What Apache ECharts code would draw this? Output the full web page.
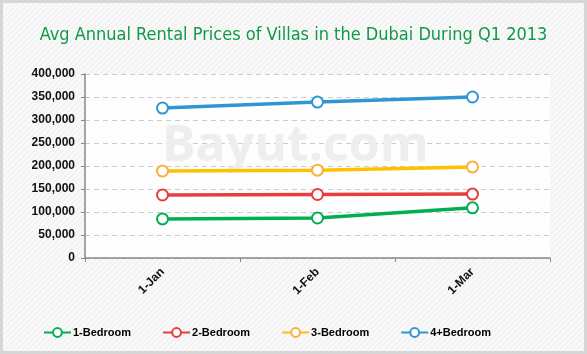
<!DOCTYPE html>
<html>
<head>
<meta charset="utf-8">
<script src="https://cdn.jsdelivr.net/npm/echarts@6/dist/echarts.min.js"></script>
<style>
  html, body { margin: 0; padding: 0; }
  body {
    width: 587px; height: 354px; box-sizing: border-box;
    border: 3px solid #d6d6d6;
    background: #f7f7f7 repeating-linear-gradient(135deg, #f9f9f9 0px, #f9f9f9 2px, #eeeeee 3px, #f9f9f9 4px);
  }
  #chart { position: absolute; left: 0; top: 0; width: 587px; height: 354px; }
</style>
</head>
<body>
<div id="chart"></div>
<script>
const months = ['1-Jan', '1-Feb', '1-Mar'];
const bed1 = [85000, 87000, 109000];
const bed2 = [137000, 138000, 139000];
const bed3 = [189000, 191000, 198000];
const bed4 = [326000, 339000, 350000];
const seriesNames = ['1-Bedroom', '2-Bedroom', '3-Bedroom', '4+Bedroom'];
const lineColors   = ['#00b050', '#e83d3d', '#ffc000', '#2f96d6'];
const markerColors = ['#00b050', '#e83d3d', '#fbb03b', '#2f96d6'];

const chart = echarts.init(document.getElementById('chart'));

const makeSeries = (name, data, idx) => ({
  name,
  type: 'line',
  data,
  symbol: 'emptyCircle',
  symbolSize: 11,
  showAllSymbol: true,
  lineStyle: { width: 3.5, color: lineColors[idx] },
  itemStyle: { color: markerColors[idx], borderWidth: 3 },
  emphasis: { disabled: true },
  z: 3
});

chart.setOption({
  animation: false,
  backgroundColor: 'transparent',
  title: {
    text: 'Avg Annual Rental Prices of Villas in the Dubai During Q1 2013',
    left: 'center',
    top: 21,
    textStyle: {
      color: '#109a48',
      fontFamily: 'Liberation Sans Narrow, DejaVu Sans Condensed, sans-serif',
      fontSize: 18,
      fontWeight: 'normal',
      textShadowColor: '#f5d000',
      textShadowOffsetX: 1,
      textShadowOffsetY: 1,
      textShadowBlur: 0
    }
  },
  graphic: [{
    type: 'text',
    left: 162,
    top: 122,
    z: 1,
    silent: true,
    style: {
      text: 'Bayut.com',
      fill: '#eeeeee',
      font: 'bold 50px "Open Sans", sans-serif'
    }
  }],
  grid: {
    left: 85, right: 37, top: 74, bottom: 96,
    show: true, backgroundColor: 'rgba(255,255,255,0.85)', borderWidth: 0
  },
  legend: {
    left: 38,
    bottom: 11,
    itemGap: 31,
    itemWidth: 27,
    itemHeight: 11,
    data: seriesNames,
    textStyle: { color: '#000', fontFamily: 'Liberation Sans, Arial', fontSize: 11, fontWeight: 'bold', padding: [0, 0, 0, -3] }
  },
  xAxis: {
    type: 'category',
    data: months,
    boundaryGap: true,
    axisLine: { lineStyle: { color: '#888', width: 1.5 } },
    axisTick: { show: true, lineStyle: { color: '#888' }, length: 4 },
    axisLabel: {
      rotate: 45, color: '#111', fontFamily: 'Arial, Liberation Sans', fontSize: 12, fontWeight: 'bold', margin: 12
    },
    splitLine: { show: false }
  },
  yAxis: {
    type: 'value',
    min: 0, max: 400000, interval: 50000,
    axisLine: { show: true, lineStyle: { color: '#888', width: 1.5 } },
    axisTick: { show: true, lineStyle: { color: '#888' }, length: 4 },
    axisLabel: {
      color: '#111', fontFamily: 'Arial, Liberation Sans', fontSize: 12, fontWeight: 'bold', margin: 10,
      formatter: v => v.toLocaleString('en-US')
    },
    splitLine: { show: true, lineStyle: { color: '#cccccc', type: [5, 4] } }
  },
  series: [
    makeSeries(seriesNames[0], bed1, 0),
    makeSeries(seriesNames[1], bed2, 1),
    makeSeries(seriesNames[2], bed3, 2),
    makeSeries(seriesNames[3], bed4, 3)
  ]
});
</script>
</body>
</html>
